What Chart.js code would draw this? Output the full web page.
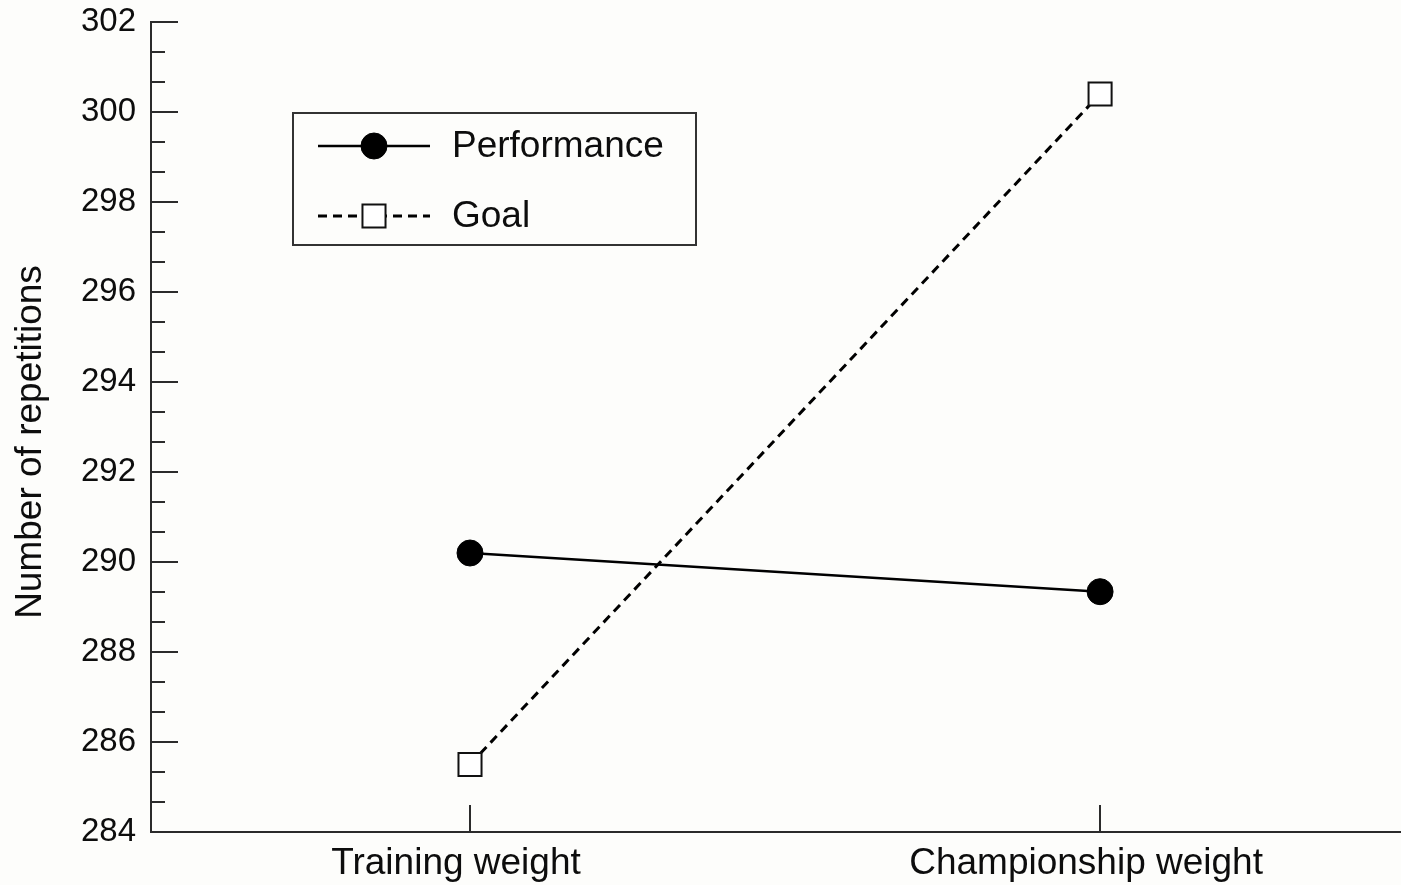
<!DOCTYPE html>
<html>
<head>
<meta charset="utf-8">
<script src="https://cdn.jsdelivr.net/npm/chart.js@4.4.0/dist/chart.umd.min.js"></script>
<style>
  html, body { margin: 0; padding: 0; background: #fdfdfb; }
  canvas { display: block; background: #fdfdfb; }
</style>
</head>
<body>
<canvas id="chart" width="1401" height="885"></canvas>
<script>
// Data
const categories = ['Training weight', 'Championship weight'];
const performance = [290.2, 289.34];
const goal = [285.5, 300.4];
const seriesNames = ['Performance', 'Goal'];
const yMajorTicks = [284, 286, 288, 290, 292, 294, 296, 298, 300, 302];
const yTitle = 'Number of repetitions';
const minorDivisions = 3; // unlabelled marks split each labelled interval in three

const FONT = '"Liberation Sans", Arial, Helvetica, sans-serif';
const INK = '#0d0d0d';
const AXIS = '#2b2b2b';

// Axis tick marks drawn inward from the axis lines, plus the vertical axis title
const innerTicks = {
  id: 'innerTicks',
  afterDraw(chart) {
    const { ctx, chartArea, scales } = chart;
    ctx.save();
    ctx.strokeStyle = AXIS;
    ctx.lineWidth = 2;
    scales.y.ticks.forEach(t => {
      const py = Math.round(scales.y.getPixelForValue(t.value));
      const len = yMajorTicks.includes(t.value) ? 27 : 14;
      ctx.beginPath();
      ctx.moveTo(chartArea.left, py);
      ctx.lineTo(chartArea.left + len, py);
      ctx.stroke();
    });
    scales.x.ticks.forEach(t => {
      const px = Math.round(scales.x.getPixelForValue(t.value));
      ctx.beginPath();
      ctx.moveTo(px, chartArea.bottom);
      ctx.lineTo(px, chartArea.bottom - 27);
      ctx.stroke();
    });

    // y-axis title, centred a little below the middle of the axis
    ctx.translate(31, (chartArea.top + chartArea.bottom) / 2 + 15);
    ctx.rotate(-Math.PI / 2);
    ctx.fillStyle = INK;
    ctx.font = '37px ' + FONT;
    ctx.textAlign = 'center';
    ctx.textBaseline = 'middle';
    ctx.fillText(yTitle, 0, 0);
    ctx.restore();
  }
};

// Boxed legend with line + marker samples
const boxedLegend = {
  id: 'boxedLegend',
  afterDraw(chart) {
    const { ctx } = chart;
    const box = { x: 293, y: 113, w: 403, h: 132 };
    ctx.save();
    ctx.fillStyle = '#fdfdfb';
    ctx.fillRect(box.x, box.y, box.w, box.h);
    ctx.strokeStyle = '#333';
    ctx.lineWidth = 2;
    ctx.strokeRect(box.x, box.y, box.w, box.h);

    const rows = [146, 216];
    chart.data.datasets.forEach((ds, i) => {
      const y = rows[i];
      const x0 = 318, x1 = 430, xm = 374;
      ctx.save();
      ctx.strokeStyle = ds.borderColor;
      ctx.lineWidth = ds.borderWidth;
      ctx.setLineDash(ds.borderDash || []);
      ctx.beginPath();
      ctx.moveTo(x0, y);
      ctx.lineTo(x1, y);
      ctx.stroke();
      ctx.restore();

      ctx.save();
      ctx.fillStyle = ds.pointBackgroundColor;
      ctx.strokeStyle = ds.pointBorderColor;
      ctx.lineWidth = ds.pointBorderWidth;
      ctx.beginPath();
      if (ds.pointStyle === 'rect') {
        const s = ds.pointRadius * Math.SQRT1_2;
        ctx.rect(xm - s, y - s, 2 * s, 2 * s);
      } else {
        ctx.arc(xm, y, ds.pointRadius, 0, Math.PI * 2);
      }
      ctx.fill();
      ctx.stroke();
      ctx.restore();

      ctx.fillStyle = INK;
      ctx.font = '37px ' + FONT;
      ctx.textBaseline = 'middle';
      ctx.textAlign = 'left';
      ctx.fillText(ds.label, 452, y + 1);
    });
    ctx.restore();
  }
};

const toPoints = arr => arr.map((v, i) => ({ x: i + 1, y: v }));

new Chart(document.getElementById('chart'), {
  type: 'line',
  data: {
    datasets: [
      {
        label: seriesNames[0],
        data: toPoints(performance),
        borderColor: '#000',
        borderWidth: 2.6,
        pointStyle: 'circle',
        pointRadius: 13,
        pointBackgroundColor: '#000',
        pointBorderColor: '#000',
        pointBorderWidth: 1
      },
      {
        label: seriesNames[1],
        data: toPoints(goal),
        borderColor: '#000',
        borderWidth: 3,
        borderDash: [9, 6],
        pointStyle: 'rect',
        pointRadius: 16.3,
        pointBackgroundColor: '#fff',
        pointBorderColor: '#111',
        pointBorderWidth: 2
      }
    ]
  },
  options: {
    responsive: false,
    animation: false,
    layout: { autoPadding: false, padding: { top: 22, right: 1, bottom: 0, left: 0 } },
    plugins: { legend: { display: false }, tooltip: { enabled: false } },
    scales: {
      x: {
        type: 'linear',
        min: 0.4937,
        max: 2.476,
        afterBuildTicks: scale => {
          scale.ticks = categories.map((c, i) => ({ value: i + 1 }));
        },
        afterFit: scale => {
          scale.height = 53;
          scale.paddingLeft = 0;
          scale.paddingRight = 0;
        },
        grid: { display: false, drawTicks: false },
        border: { display: true, color: AXIS, width: 2 },
        ticks: {
          autoSkip: false,
          maxRotation: 0,
          padding: 10,
          labelOffset: -14,
          color: INK,
          font: { family: FONT, size: 37 },
          callback: v => categories[Math.round(v) - 1] || ''
        }
      },
      y: {
        type: 'linear',
        min: yMajorTicks[0],
        max: yMajorTicks[yMajorTicks.length - 1],
        afterBuildTicks: scale => {
          const t = [];
          for (let i = 0; i < yMajorTicks.length - 1; i++) {
            const a = yMajorTicks[i], b = yMajorTicks[i + 1];
            for (let k = 0; k < minorDivisions; k++) t.push({ value: a + k * (b - a) / minorDivisions });
          }
          t.push({ value: yMajorTicks[yMajorTicks.length - 1] });
          scale.ticks = t;
        },
        afterFit: scale => {
          scale.width = 151;
          scale.paddingTop = 0;
          scale.paddingBottom = 0;
        },
        grid: { display: false, drawTicks: false },
        border: { display: true, color: AXIS, width: 2 },
        ticks: {
          autoSkip: false,
          padding: 15,
          color: INK,
          font: { family: FONT, size: 33 },
          callback: v => yMajorTicks.includes(v) ? String(v) : ''
        }
      }
    }
  },
  plugins: [innerTicks, boxedLegend]
});
</script>
</body>
</html>
